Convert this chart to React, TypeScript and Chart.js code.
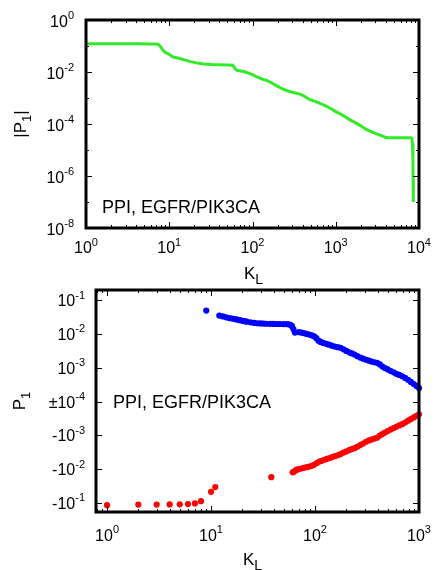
import React, { useEffect, useRef } from "react";
import { Chart, registerables } from "chart.js";

Chart.register(...registerables);

const FONT = "'Liberation Sans', Arial, Helvetica, sans-serif";

// ---------- top panel: |P1| vs K_L ----------
const topK = [1, 2, 4, 6, 7, 7.5, 8, 8.5, 9, 10, 11, 13, 15, 18, 22, 26, 32, 40, 50, 58, 60, 62, 65, 70, 80, 90, 100, 115, 130, 150, 175, 200, 230, 260, 300, 340, 380, 420, 480, 550, 620, 700, 800, 900, 1000, 1150, 1300, 1500, 1700, 2000, 2300, 2700, 3100, 3600, 4000, 4300, 5000, 6000, 7000, 8000, 8200, 8350, 8450, 8500, 8530, 8550];
const topAbsP1 = [1.23e-1, 1.22e-1, 1.21e-1, 1.2e-1, 1.19e-1, 1.12e-1, 8.9e-2, 6.6e-2, 5.6e-2, 4.8e-2, 3.8e-2, 3.4e-2, 3.0e-2, 2.5e-2, 2.2e-2, 2.04e-2, 1.95e-2, 1.9e-2, 1.86e-2, 1.82e-2, 1.58e-2, 1.32e-2, 1.17e-2, 1.12e-2, 1.02e-2, 9.1e-3, 7.9e-3, 6.3e-3, 5.4e-3, 4.7e-3, 3.6e-3, 2.8e-3, 2.24e-3, 1.9e-3, 1.66e-3, 1.51e-3, 1.38e-3, 1.17e-3, 8.9e-4, 7.6e-4, 6.6e-4, 5.5e-4, 4.6e-4, 3.7e-4, 3.0e-4, 2.4e-4, 1.9e-4, 1.41e-4, 1.15e-4, 8.5e-5, 6.3e-5, 5.0e-5, 4.2e-5, 3.5e-5, 3.0e-5, 2.95e-5, 2.95e-5, 2.95e-5, 2.95e-5, 2.95e-5, 2.8e-5, 1.8e-5, 5e-6, 8e-7, 2e-7, 1e-7];

const topXTickValues = [1, 10, 100, 1000, 10000];
const topXTickExps = ["0", "1", "2", "3", "4"];
const topYTickValues = [1, 1e-2, 1e-4, 1e-6, 1e-8];
const topYTickExps = ["0", "-2", "-4", "-6", "-8"];
const topYMinor = [1e-1, 1e-3, 1e-5, 1e-7];

// ---------- bottom panel: signed P1 vs K_L ----------
const posK = [9, 12, 13, 14, 15, 16, 17, 18, 19, 20, 21, 22, 24, 26, 28, 30, 32, 34, 37, 40, 43, 46, 50, 54, 57, 59, 60, 62, 64, 70, 74, 78, 83, 88, 93, 98, 103, 108, 113, 120, 128, 136, 145, 155, 165, 176, 188, 200, 213, 226, 240, 255, 272, 290, 310, 330, 350, 372, 395, 420, 445, 470, 500, 535, 570, 605, 645, 690, 735, 785, 835, 890, 945, 1000];
const posP1 = [4.9e-2, 3.5e-2, 3.3e-2, 3.1e-2, 2.95e-2, 2.85e-2, 2.75e-2, 2.65e-2, 2.55e-2, 2.45e-2, 2.38e-2, 2.3e-2, 2.2e-2, 2.12e-2, 2.07e-2, 2.04e-2, 2.02e-2, 2.0e-2, 1.99e-2, 1.98e-2, 1.97e-2, 1.97e-2, 1.96e-2, 1.95e-2, 1.9e-2, 1.8e-2, 1.7e-2, 1.4e-2, 1.1e-2, 1.13e-2, 1.1e-2, 1.06e-2, 1.0e-2, 9.6e-3, 9.1e-3, 8.5e-3, 7.5e-3, 6.3e-3, 5.8e-3, 5.4e-3, 5.1e-3, 4.8e-3, 4.5e-3, 4.25e-3, 4.05e-3, 3.9e-3, 3.5e-3, 3.15e-3, 2.85e-3, 2.65e-3, 2.45e-3, 2.2e-3, 2.0e-3, 1.85e-3, 1.72e-3, 1.62e-3, 1.52e-3, 1.45e-3, 1.4e-3, 1.25e-3, 1.08e-3, 9.8e-4, 8.9e-4, 8.0e-4, 7.3e-4, 6.6e-4, 6.1e-4, 5.6e-4, 5.0e-4, 4.4e-4, 3.8e-4, 3.3e-4, 2.9e-4, 2.5e-4];
const negK = [1, 2, 3, 4, 5, 6, 7, 8, 10, 11, 38, 61, 63, 65, 67, 70, 74, 78, 83, 88, 93, 98, 104, 110, 116, 123, 130, 138, 146, 155, 165, 176, 188, 200, 213, 226, 240, 255, 272, 290, 310, 330, 350, 372, 395, 420, 445, 470, 500, 535, 570, 605, 645, 690, 735, 785, 835, 890, 945, 1000];
const negP1 = [-1.17e-1, -1.12e-1, -1.12e-1, -1.11e-1, -1.1e-1, -1.08e-1, -1.04e-1, -8.9e-2, -4.7e-2, -3.4e-2, -1.74e-2, -1.25e-2, -1.18e-2, -1.1e-2, -1.04e-2, -1.0e-2, -9.6e-3, -9.2e-3, -8.8e-3, -8.4e-3, -8.0e-3, -7.5e-3, -6.6e-3, -6.0e-3, -5.7e-3, -5.3e-3, -5.0e-3, -4.7e-3, -4.4e-3, -4.15e-3, -3.9e-3, -3.6e-3, -3.25e-3, -3.0e-3, -2.75e-3, -2.55e-3, -2.4e-3, -2.2e-3, -1.95e-3, -1.75e-3, -1.55e-3, -1.42e-3, -1.33e-3, -1.25e-3, -1.18e-3, -1.02e-3, -9.2e-4, -8.3e-4, -7.5e-4, -6.7e-4, -6.1e-4, -5.6e-4, -5.1e-4, -4.7e-4, -4.2e-4, -3.7e-4, -3.3e-4, -2.95e-4, -2.65e-4, -2.4e-4];

const botXTickValues = [1, 10, 100, 1000];
const botXTickExps = ["0", "1", "2", "3"];
const botYTickValues = [1e-1, 1e-2, 1e-3, 1e-4, -1e-3, -1e-2, -1e-1];
const botYTickBases = ["10", "10", "10", "\u00b110", "-10", "-10", "-10"];
const botYTickExps = ["-1", "-2", "-3", "-4", "-3", "-2", "-1"];

const annotation = "PPI, EGFR/PIK3CA";

// signed-log transform used by the bottom panel (|P1| = 1e-4 maps to 0)
const symlog = (v: number) => Math.sign(v) * (Math.log10(Math.abs(v)) + 4);

const logMinors = (lo: number, hi: number) => {
  const out: number[] = [];
  for (let d = Math.floor(Math.log10(lo)); d < Math.ceil(Math.log10(hi)); d++) {
    for (let m = 2; m <= 9; m++) {
      const v = m * Math.pow(10, d);
      if (v > lo && v < hi) out.push(v);
    }
  }
  return out;
};

type Piece = { t: string; size: number; dy: number };

function measure(ctx: CanvasRenderingContext2D, pieces: Piece[]) {
  let w = 0;
  for (const p of pieces) {
    ctx.font = `${p.size}px ${FONT}`;
    w += ctx.measureText(p.t).width;
  }
  return w;
}

function drawRich(ctx: CanvasRenderingContext2D, pieces: Piece[], x: number, y: number, align: "left" | "center" | "right") {
  const w = measure(ctx, pieces);
  let cx = align === "left" ? x : align === "center" ? x - w / 2 : x - w;
  ctx.textAlign = "left";
  ctx.textBaseline = "alphabetic";
  for (const p of pieces) {
    ctx.font = `${p.size}px ${FONT}`;
    ctx.fillText(p.t, cx, y + p.dy);
    cx += ctx.measureText(p.t).width;
  }
}

type Decor = {
  xTicks: { v: number; base: string; exp: string }[];
  xMinor: number[];
  yTicks: { v: number; base: string; exp: string }[];
  yMinor: number[];
  xLabelDy: number;
  yLabelGap: number;
  yBaseDy: number;
  xTitleY: number;
  xTitleDx: number;
  yTitleX: number;
  yTitle: Piece[];
  noteX: number;
  noteY: number;
};

function makeDecor(d: Decor) {
  return {
    id: "decor",
    afterDraw(chart: any) {
      const ctx: CanvasRenderingContext2D = chart.ctx;
      const { left, right, top, bottom } = chart.chartArea;
      const xs = chart.scales.x;
      const ys = chart.scales.y;
      ctx.save();
      ctx.fillStyle = "#000";
      ctx.strokeStyle = "#000";
      // ticks (inward, mirrored)
      ctx.lineWidth = 1;
      ctx.beginPath();
      const xt = (v: number, len: number) => {
        const px = Math.round(xs.getPixelForValue(v)) + 0.5;
        ctx.moveTo(px, bottom);
        ctx.lineTo(px, bottom - len);
        ctx.moveTo(px, top);
        ctx.lineTo(px, top + len);
      };
      const yt = (v: number, len: number) => {
        const py = Math.round(ys.getPixelForValue(v)) + 0.5;
        ctx.moveTo(left, py);
        ctx.lineTo(left + len, py);
        ctx.moveTo(right, py);
        ctx.lineTo(right - len, py);
      };
      d.xTicks.forEach((t) => xt(t.v, 6));
      d.xMinor.forEach((v) => xt(v, 3));
      d.yTicks.forEach((t) => yt(t.v, 6));
      d.yMinor.forEach((v) => yt(v, 3));
      ctx.stroke();
      // frame
      ctx.lineWidth = 3;
      ctx.strokeRect(left, top, right - left, bottom - top);
      // tick labels
      d.xTicks.forEach((t) => {
        const px = xs.getPixelForValue(t.v);
        drawRich(ctx, [
          { t: t.base, size: 16, dy: 0 },
          { t: t.exp, size: 11, dy: -7.5 },
        ], px, bottom + d.xLabelDy, "center");
      });
      d.yTicks.forEach((t) => {
        const py = ys.getPixelForValue(t.v);
        drawRich(ctx, [
          { t: t.base, size: 16, dy: 0 },
          { t: t.exp, size: 11, dy: -7.5 },
        ], left - d.yLabelGap, py + d.yBaseDy, "right");
      });
      // x title K_L
      drawRich(ctx, [
        { t: "K", size: 17, dy: 0 },
        { t: "L", size: 14, dy: 5 },
      ], (left + right) / 2 + d.xTitleDx, d.xTitleY, "center");
      // y title (rotated)
      ctx.save();
      ctx.translate(d.yTitleX, (top + bottom) / 2);
      ctx.rotate(-Math.PI / 2);
      drawRich(ctx, d.yTitle, 0, 0, "center");
      ctx.restore();
      // annotation
      ctx.font = `18px ${FONT}`;
      ctx.textAlign = "left";
      ctx.fillText(annotation, d.noteX, d.noteY);
      ctx.restore();
    },
  };
}

function topConfig(): any {
  const decor = makeDecor({
    xTicks: topXTickValues.map((v, i) => ({ v, base: "10", exp: topXTickExps[i] })),
    xMinor: logMinors(1, 10000),
    yTicks: topYTickValues.map((v, i) => ({ v, base: "10", exp: topYTickExps[i] })),
    yMinor: topYMinor,
    xLabelDy: 25,
    yLabelGap: 12,
    yBaseDy: 6.5,
    xTitleY: 279,
    xTitleDx: 1,
    yTitleX: 26,
    yTitle: [
      { t: "|P", size: 17, dy: 0 },
      { t: "1", size: 13, dy: 5 },
      { t: "|", size: 17, dy: 0 },
    ],
    noteX: 102,
    noteY: 213,
  });
  return {
    type: "scatter",
    data: {
      datasets: [
        {
          data: topK.map((k, i) => ({ x: k, y: topAbsP1[i] })),
          showLine: true,
          borderColor: "rgb(50,235,40)",
          borderWidth: 3,
          pointRadius: 0,
          tension: 0,
          fill: false,
          clip: 4,
        },
      ],
    },
    options: {
      animation: false,
      responsive: false,
      devicePixelRatio: 1,
      events: [],
      layout: { padding: { left: 86, right: 15, top: 20, bottom: 57 } },
      plugins: { legend: { display: false }, tooltip: { enabled: false } },
      scales: {
        x: { type: "logarithmic", min: 1, max: 10000, display: false },
        y: { type: "logarithmic", min: 1e-8, max: 1, display: false },
      },
    },
    plugins: [decor],
  };
}

function bottomConfig(): any {
  const decor = makeDecor({
    xTicks: botXTickValues.map((v, i) => ({ v, base: "10", exp: botXTickExps[i] })),
    xMinor: logMinors(0.78, 1000),
    yTicks: botYTickValues.map((v, i) => ({ v: symlog(v), base: botYTickBases[i], exp: botYTickExps[i] })),
    yMinor: [],
    xLabelDy: 28.5,
    yLabelGap: 11,
    yBaseDy: 6,
    xTitleY: 280,
    xTitleDx: -5,
    yTitleX: 25,
    yTitle: [
      { t: "P", size: 17, dy: 0 },
      { t: "1", size: 13, dy: 5 },
    ],
    noteX: 113,
    noteY: 123,
  });
  return {
    type: "scatter",
    data: {
      datasets: [
        {
          data: posK.map((k, i) => ({ x: k, y: symlog(posP1[i]) })),
          backgroundColor: "rgb(0,0,255)",
          borderWidth: 0,
          pointRadius: 3.1,
          clip: false,
        },
        {
          data: negK.map((k, i) => ({ x: k, y: symlog(negP1[i]) })),
          backgroundColor: "rgb(255,0,0)",
          borderWidth: 0,
          pointRadius: 3.1,
          clip: false,
        },
      ],
    },
    options: {
      animation: false,
      responsive: false,
      devicePixelRatio: 1,
      events: [],
      layout: { padding: { left: 96, right: 15, top: 5, bottom: 58 } },
      plugins: { legend: { display: false }, tooltip: { enabled: false } },
      scales: {
        x: { type: "logarithmic", min: 0.783, max: 1000, display: false },
        y: { type: "linear", min: -3.27, max: 3.3, display: false },
      },
    },
    plugins: [decor],
  };
}

function Panel({ build, top }: { build: () => any; top: number }) {
  const ref = useRef<HTMLCanvasElement>(null);
  useEffect(() => {
    const chart = new Chart(ref.current as HTMLCanvasElement, build());
    return () => chart.destroy();
  }, []);
  return (
    <canvas
      ref={ref}
      width={434}
      height={285}
      style={{ position: "absolute", left: 0, top, width: 434, height: 285 }}
    />
  );
}

export default function App() {
  return (
    <div style={{ position: "fixed", left: 0, top: 0, width: 434, height: 570, background: "#fff", overflow: "hidden" }}>
      <Panel build={topConfig} top={0} />
      <Panel build={bottomConfig} top={285} />
    </div>
  );
}
